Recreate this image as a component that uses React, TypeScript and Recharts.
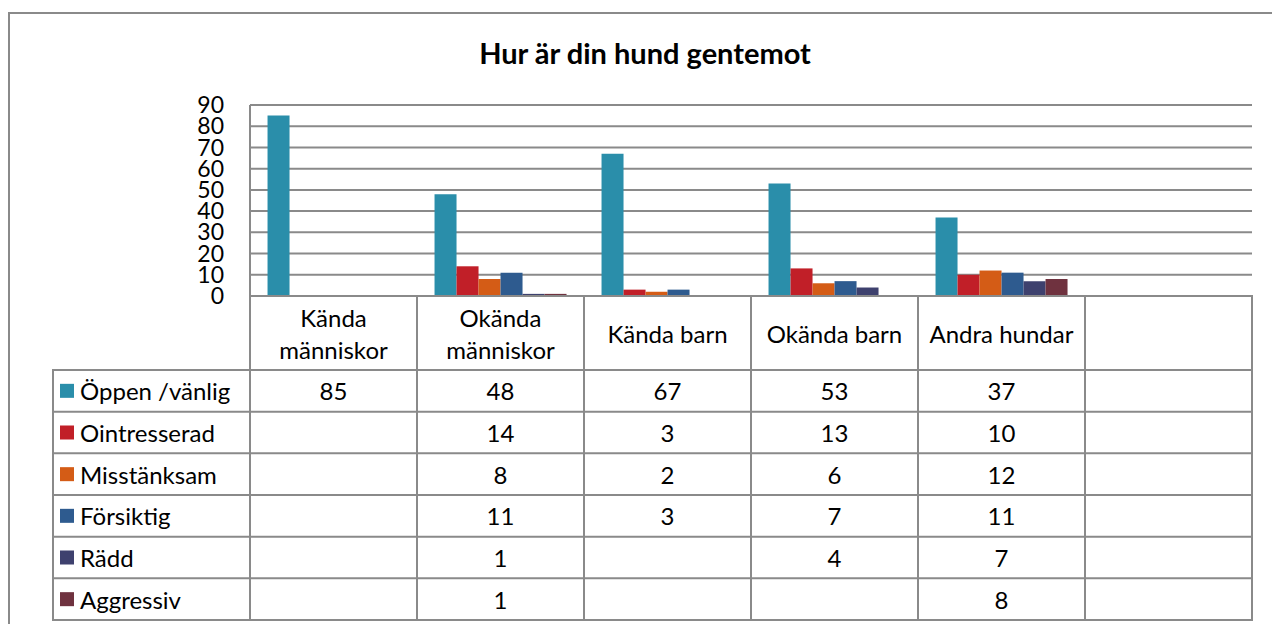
import { BarChart, Bar, XAxis, YAxis, CartesianGrid, Customized } from 'recharts'

// Chart data
const categories = ['Kända människor', 'Okända människor', 'Kända barn', 'Okända barn', 'Andra hundar', '']
const seriesNames = ['Öppen /vänlig', 'Ointresserad', 'Misstänksam', 'Försiktig', 'Rädd', 'Aggressiv']
const oppen = [85, 48, 67, 53, 37, null]
const ointresserad = [null, 14, 3, 13, 10, null]
const misstanksam = [null, 8, 2, 6, 12, null]
const forsiktig = [null, 11, 3, 7, 11, null]
const radd = [null, 1, null, 4, 7, null]
const aggressiv = [null, 1, null, null, 8, null]
const yTicks = [0, 10, 20, 30, 40, 50, 60, 70, 80, 90]

const seriesValues = [oppen, ointresserad, misstanksam, forsiktig, radd, aggressiv]
const COLORS = ['#2A8EAA', '#C11F28', '#D45C16', '#2E5B8F', '#3E416E', '#6F323F']

const FONT = 'Lato, "Open Sans", sans-serif'
const LINE = '#8A8A8A'
const TABLE_FS = 24

// layout
const W = 1272
const H = 624
const PLOT_L = 250
const PLOT_R = 1252
const PLOT_T = 105
const PLOT_B = 296
const COL_W = (PLOT_R - PLOT_L) / categories.length
const HEAD_H = 74
const ROW_H = (620 - PLOT_B - HEAD_H) / seriesNames.length
const LABEL_L = 53

const rows = categories.map((c, i) => {
  const row: Record<string, any> = { category: c }
  seriesNames.forEach((s, k) => {
    row[s] = seriesValues[k][i]
  })
  return row
})

// one column of the data table, drawn below each category tick
const TableColumn = (props: any) => {
  const { x, y, index } = props
  const left = x - COL_W / 2
  const label: string = categories[index]
  const words = label.includes('människor') ? label.split(' ') : [label]
  return (
    <g>
      <rect x={left} y={y} width={COL_W} height={HEAD_H + ROW_H * seriesNames.length} fill="none" stroke={LINE} strokeWidth={2} />
      {words.map((w, i) => (
        <text
          key={i}
          x={x}
          y={y + HEAD_H / 2 + (i - (words.length - 1) / 2) * 32}
          textAnchor="middle"
          dominantBaseline="central"
          fontSize={TABLE_FS}
          fontFamily={FONT}
          fill="#000"
        >
          {w}
        </text>
      ))}
      {seriesNames.map((s, k) => (
        <g key={s}>
          <line x1={left} x2={left + COL_W} y1={y + HEAD_H + ROW_H * k} y2={y + HEAD_H + ROW_H * k} stroke={LINE} strokeWidth={2} />
          {seriesValues[k][index] != null && (
            <text
              x={x}
              y={y + HEAD_H + ROW_H * k + ROW_H / 2}
              textAnchor="middle"
              dominantBaseline="central"
              fontSize={TABLE_FS}
              fontFamily={FONT}
              fill="#000"
            >
              {seriesValues[k][index]}
            </text>
          )}
        </g>
      ))}
    </g>
  )
}

// left column with the legend keys
const RowLabels = () => {
  const top = PLOT_B + HEAD_H
  return (
    <g>
      <rect x={LABEL_L} y={top} width={PLOT_L - LABEL_L} height={ROW_H * seriesNames.length} fill="none" stroke={LINE} strokeWidth={2} />
      {seriesNames.map((s, k) => {
        const cy = top + ROW_H * k + ROW_H / 2
        return (
          <g key={s}>
            <line x1={LABEL_L} x2={PLOT_L} y1={top + ROW_H * k} y2={top + ROW_H * k} stroke={LINE} strokeWidth={2} />
            <rect x={60} y={cy - 7} width={14} height={14} fill={COLORS[k]} />
            <text x={80} y={cy} dominantBaseline="central" fontSize={TABLE_FS} fontFamily={FONT} fill="#000">
              {s}
            </text>
          </g>
        )
      })}
    </g>
  )
}

export default function App() {
  return (
    <div style={{ position: 'absolute', left: 0, top: 0, width: W, height: H, background: '#fff', overflow: 'hidden' }}>
      <div
        style={{
          position: 'absolute',
          left: 8,
          top: 12,
          width: W,
          height: H,
          borderLeft: `2px solid ${LINE}`,
          borderTop: `2px solid ${LINE}`,
        }}
      />
      <div
        style={{
          position: 'absolute',
          left: 0,
          top: 35,
          width: 1290,
          textAlign: 'center',
          fontFamily: FONT,
          fontWeight: 'bold',
          fontSize: 29,
          color: '#000',
        }}
      >
        Hur är din hund gentemot
      </div>
      <div style={{ position: 'absolute', left: 0, top: 0 }}>
        <BarChart
          width={W}
          height={H}
          data={rows}
          margin={{ top: PLOT_T, right: W - PLOT_R, left: PLOT_L - 60, bottom: H - PLOT_B - 30 }}
          barCategoryGap="10.5%"
          barGap={0}
        >
          <CartesianGrid vertical={false} stroke={LINE} strokeWidth={2} />
          <YAxis
            width={60}
            domain={[0, 90]}
            ticks={yTicks}
            interval={0}
            tickLine={false}
            tickSize={0}
            tickMargin={26}
            axisLine={{ stroke: LINE, strokeWidth: 2 }}
            tick={{ fontSize: 23, fill: '#000', fontFamily: FONT }}
          />
          <XAxis
            dataKey="category"
            height={30}
            interval={0}
            tickLine={false}
            tickSize={0}
            tickMargin={0}
            axisLine={{ stroke: LINE, strokeWidth: 2 }}
            tick={<TableColumn />}
          />
          {seriesNames.map((s, k) => (
            <Bar key={s} dataKey={s} fill={COLORS[k]} isAnimationActive={false} />
          ))}
          <Customized component={<RowLabels />} />
        </BarChart>
      </div>
    </div>
  )
}
